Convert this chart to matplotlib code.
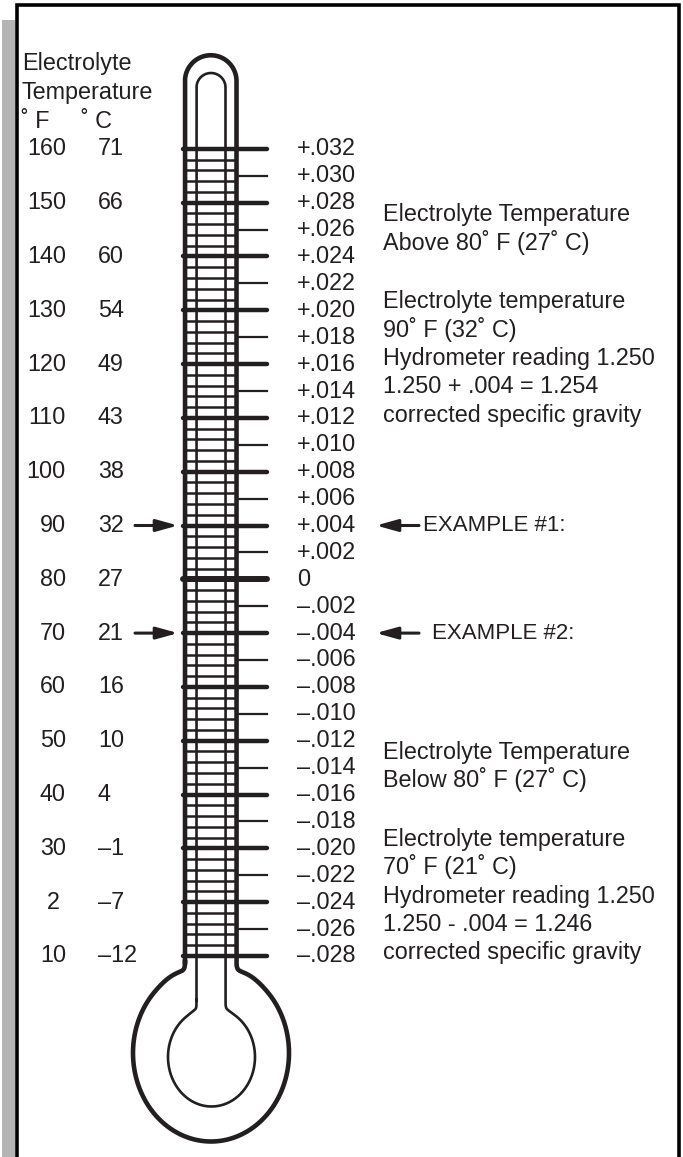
import numpy as np
import matplotlib.pyplot as plt

plt.rcParams['font.family'] = ['Liberation Sans', 'DejaVu Sans']

# ---------------------------------------------------------------- data
temp_f = [160, 150, 140, 130, 120, 110, 100, 90, 80, 70, 60, 50, 40, 30, 20, 10]
f_labels = ["160", "150", "140", "130", "120", "110", "100", "90", "80", "70",
            "60", "50", "40", "30", "2", "10"]
c_labels = ["71", "66", "60", "54", "49", "43", "38", "32", "27", "21",
            "16", "10", "4", "–1", "–7", "–12"]
corrections = [0.032, 0.030, 0.028, 0.026, 0.024, 0.022, 0.020, 0.018, 0.016,
               0.014, 0.012, 0.010, 0.008, 0.006, 0.004, 0.002, 0.0,
               -0.002, -0.004, -0.006, -0.008, -0.010, -0.012, -0.014,
               -0.016, -0.018, -0.020, -0.022, -0.024, -0.026, -0.028]
corr_labels = ["+.032", "+.030", "+.028", "+.026", "+.024", "+.022", "+.020",
               "+.018", "+.016", "+.014", "+.012", "+.010", "+.008", "+.006",
               "+.004", "+.002", "0", "–.002", "–.004", "–.006", "–.008",
               "–.010", "–.012", "–.014", "–.016", "–.018", "–.020", "–.022",
               "–.024", "–.026", "–.028"]
example_corr = [0.004, -0.004]
example_labels = ["EXAMPLE #1:", "EXAMPLE #2:"]

above_lines = ["Electrolyte Temperature", "Above 80˚ F (27˚ C)"]
ex1_lines = ["Electrolyte temperature", "90˚ F (32˚ C)",
             "Hydrometer reading 1.250", "1.250 + .004 = 1.254",
             "corrected specific gravity"]
below_lines = ["Electrolyte Temperature", "Below 80˚ F (27˚ C)"]
ex2_lines = ["Electrolyte temperature", "70˚ F (21˚ C)",
             "Hydrometer reading 1.250", "1.250 - .004 = 1.246",
             "corrected specific gravity"]

# ---------------------------------------------------------------- layout
INK = '#231f20'
FS = 16.8
ZERO_PX, PX_PER_UNIT = 579.3, 13450.0      # correction scale on the page
W, H = 683, 1157

fig = plt.figure(figsize=(6.83, 11.57), dpi=100)
ax = fig.add_axes([0, 0, 1, 1])             # page coords (pixels)
ax.set_xlim(0, W)
ax.set_ylim(H, 0)
ax.axis('off')
sc = ax.twinx()                             # y = specific gravity correction
sc.set_ylim(-(H - ZERO_PX) / PX_PER_UNIT, ZERO_PX / PX_PER_UNIT)
sc.axis('off')

# frame and grey edge
ax.add_patch(plt.Rectangle((2, 20), 13, H, color='#b5b5b5', lw=0))
ax.plot([16.5, 16.5, 678.5, 678.5], [H, 5, 5, H], color='black', lw=2.6,
        solid_joinstyle='miter')


def bez(p0, p1, p2, p3, n=40):
    t = np.linspace(0, 1, n)[:, None]
    p0, p1, p2, p3 = map(np.array, (p0, p1, p2, p3))
    return ((1 - t) ** 3 * p0 + 3 * (1 - t) ** 2 * t * p1
            + 3 * (1 - t) * t ** 2 * p2 + t ** 3 * p3)


def ell(cx, cy, a, b, t0, t1, n=200):
    t = np.radians(np.linspace(t0, t1, n))
    return np.column_stack([cx + a * np.sin(t), cy - b * np.cos(t)])


def contour(xl, xr, top_cy, neck_y, ecx, ecy, a, b, tsh, k=0.35, d=14):
    cx, r = (xl + xr) / 2, (xr - xl) / 2
    th = np.radians(np.linspace(180, 0, 80))
    arc = np.column_stack([cx + r * np.cos(th), top_cy - r * np.sin(th)])
    left_up = np.array([[xl, neck_y], [xl, top_cy]])
    right_dn = np.array([[xr, top_cy], [xr, neck_y]])
    er = ell(ecx, ecy, a, b, tsh, tsh, 1)[0]
    tr = np.array([a * np.cos(np.radians(tsh)), b * np.sin(np.radians(tsh))])
    fil_r = bez((xr, neck_y), (xr, neck_y + d), er - k * tr, er)
    body = ell(ecx, ecy, a, b, tsh, 360 - tsh)
    el = body[-1]
    tl = np.array([a * np.cos(np.radians(360 - tsh)),
                   b * np.sin(np.radians(360 - tsh))])
    fil_l = bez(el, el + k * tl, (xl, neck_y + d), (xl, neck_y))
    return np.vstack([left_up, arc, right_dn, fil_r, body, fil_l])


# graduations every 2 F inside the tube
grad = (np.arange(160, 9, -2) - 80) * 0.0004
sc.hlines(grad, 185, 236.5, color=INK, lw=1.8, zorder=2)

# correction ticks: long thick at each 10 F, short at the odd .002 steps
for i, (v, lab) in enumerate(zip(corrections, corr_labels)):
    if i % 2 == 0:
        sc.plot([183, 267], [v, v], color=INK, lw=4.3 if v == 0 else 3.2,
                solid_capstyle='round', zorder=3)
    else:
        sc.plot([236.5, 267], [v, v], color=INK, lw=1.6, zorder=3)
    sc.text(297, v, lab, fontsize=FS, color=INK, va='center', ha='left')

# tube and bulb outlines
outer = contour(185, 236.5, 81, 962, 211, 1053, 78, 88.5, 47, k=0.45, d=16)
inner = contour(196.5, 225.5, 87.5, 1000, 211.5, 1057, 43.5, 49.5, 38,
                k=0.35, d=12)
ax.plot(outer[:, 0], outer[:, 1], color=INK, lw=3.3, zorder=4,
        solid_joinstyle='round')
ax.plot(inner[:, 0], inner[:, 1], color=INK, lw=1.9, zorder=4,
        solid_joinstyle='round')

# left temperature columns
for v, fl, cl in zip(corrections[::2], f_labels, c_labels):
    if len(fl) == 1:
        sc.text(53, v, fl, fontsize=FS, color=INK, va='center', ha='center')
    else:
        sc.text(66, v, fl, fontsize=FS, color=INK, va='center', ha='right')
    sc.text(98, v, cl, fontsize=FS, color=INK, va='center', ha='left')

for y, s in zip([70, 99], ["Electrolyte", "Temperature"]):
    ax.text(22, y, s, fontsize=FS, color=INK, va='baseline')
ax.text(21, 128, "˚ F", fontsize=FS, color=INK, va='baseline')
ax.text(81, 128, "˚ C", fontsize=FS, color=INK, va='baseline')

# example arrows
head = '-|>,head_length=1.3,head_width=0.36'
text_x = [423, 432]
for v, lab, tx in zip(example_corr, example_labels, text_x):
    sc.annotate('', xy=(178, v), xytext=(135, v),
                arrowprops=dict(arrowstyle=head, color=INK, lw=2.2,
                                shrinkA=0, shrinkB=0, mutation_scale=10))
    sc.annotate('', xy=(376, v), xytext=(419, v),
                arrowprops=dict(arrowstyle=head, color=INK, lw=2.2,
                                shrinkA=0, shrinkB=0, mutation_scale=10))
    sc.text(tx, v, lab, fontsize=16, color=INK, va='center', ha='left')

# explanation blocks on the right
shift = 537.5
for dy, hd, ex in [(0, above_lines, ex1_lines), (shift, below_lines, ex2_lines)]:
    for j, s in enumerate(hd):
        ax.text(383, 221 + dy + j * 29, s, fontsize=FS, color=INK,
                va='baseline')
    for j, s in enumerate(ex):
        ax.text(383, 308.3 + dy + j * 28.35, s, fontsize=FS, color=INK,
                va='baseline')

fig.savefig('out.png', dpi=100)
